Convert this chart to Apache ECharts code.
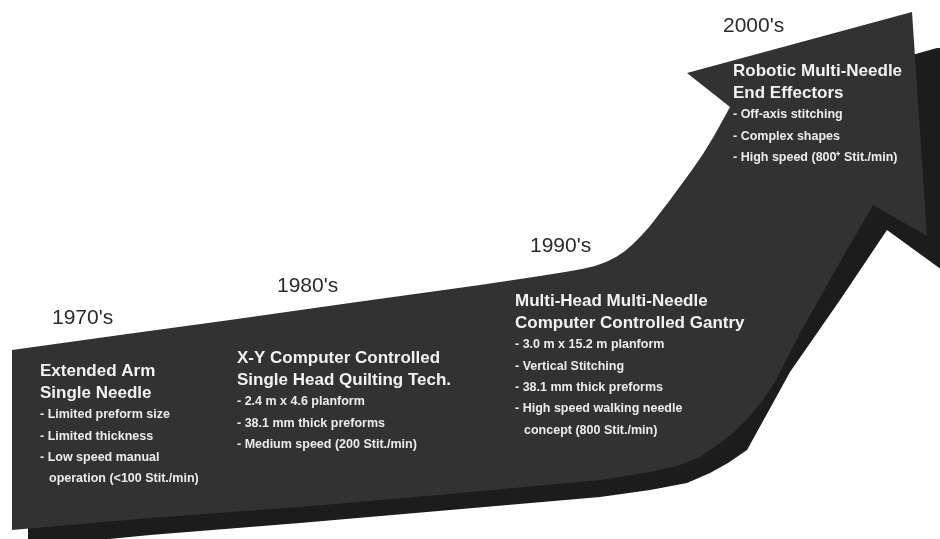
<!DOCTYPE html>
<html>
<head>
<meta charset="utf-8">
<script src="https://cdn.jsdelivr.net/npm/echarts@6/dist/echarts.min.js"></script>
<style>
html,body{margin:0;padding:0;background:#ffffff;}
#chart{width:940px;height:539px;}
</style>
</head>
<body>
<div id="chart"></div>
<script>
// ---- content ----
const decades = ["1970's", "1980's", "1990's", "2000's"];
const titles = [
  ["Extended Arm", "Single Needle"],
  ["X-Y Computer Controlled", "Single Head Quilting Tech."],
  ["Multi-Head Multi-Needle", "Computer Controlled Gantry"],
  ["Robotic Multi-Needle", "End Effectors"]
];
const bullets = [
  ["- Limited preform size", "- Limited thickness", "- Low speed manual", "  operation (<100 Stit./min)"],
  ["- 2.4 m x 4.6 planform", "- 38.1 mm thick preforms", "- Medium speed (200 Stit./min)"],
  ["- 3.0 m x 15.2 m planform", "- Vertical Stitching", "- 38.1 mm thick preforms", "- High speed walking needle", "  concept (800 Stit./min)"],
  ["- Off-axis stitching", "- Complex shapes", "- High speed (800\u207A Stit./min)"]
];

// ---- layout (positions only) ----
const decadePos = [[52, 318], [277, 286], [530, 246], [723, 26]];
const blockPos = [[40, 371.5], [237, 358.5], [515, 301.5], [733, 71.5]];
const titleGap = 21.5;
const bulletGap = 21.3;
const bulletStart = 43.5;

const frontArrow = [
  [12,350],[120,335],[230,320],[350,303],[480,285],[540,276],[565,272],[582,269],
  [595,266],[606,262],[616,257],[625,251],[633,244],[641,236],[650,226],[660,213],
  [670,200],[681,185],[692,170],[703,154],[714,136],[730,107],[687,73],[912,12],
  [927,236],[873,205],[840,262],[800,333],[775,382],[763,400],[748,418],[733,433],
  [716,446],[700,457],[680,465],[650,472],[600,480],[450,494],[300,507],[150,518],[12,530]
];
const backArrow = [
  [912,55],[937,48],[942,48],[942,270],[887,230],[840,300],[790,372],[768,412],[747,450],
  [728,463],[710,473],[687,483],[650,490],[600,497],[300,523],[150,535],[28,547],[28,520],[700,440],[900,100]
];

const FONT = '"Liberation Sans", Arial, Helvetica, sans-serif';
const graphics = [];
graphics.push({type:'polygon', shape:{points:backArrow}, style:{fill:'#1c1c1c'}, z:1});
graphics.push({type:'polygon', shape:{points:frontArrow}, style:{fill:'#323232'}, z:2});

decades.forEach((d, i) => {
  graphics.push({type:'text', x:decadePos[i][0], y:decadePos[i][1], z:5,
    style:{text:d, fill:'#2a2a2a', fontSize:21, fontFamily:FONT, verticalAlign:'middle', align:'left'}});
});

titles.forEach((lines, i) => {
  const [bx, by] = blockPos[i];
  lines.forEach((t, j) => {
    graphics.push({type:'text', x:bx, y:by + j*titleGap, z:5,
      style:{text:t, fill:'#f2f2f2', fontSize:17, fontWeight:'bold', fontFamily:FONT, verticalAlign:'middle', align:'left'}});
  });
  bullets[i].forEach((t, j) => {
    const indent = t.startsWith('  ');
    graphics.push({type:'text', x:bx + (indent ? 9 : 0), y:by + bulletStart + j*bulletGap, z:5,
      style:{text:t.trim(), fill:'#ececec', fontSize:12.5, fontWeight:'bold', fontFamily:FONT, verticalAlign:'middle', align:'left'}});
  });
});

const chart = echarts.init(document.getElementById('chart'), null, {renderer:'canvas', width:940, height:539});
chart.setOption({
  backgroundColor:'#ffffff',
  animation:false,
  graphic: graphics
});
</script>
</body>
</html>
